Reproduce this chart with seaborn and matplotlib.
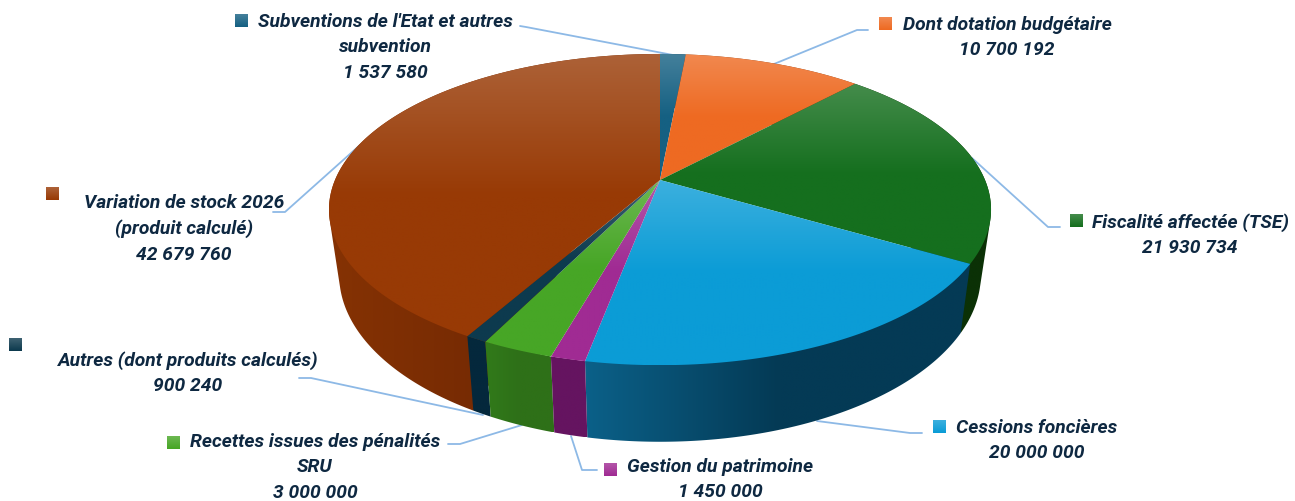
import numpy as np
import matplotlib
matplotlib.use("Agg")
import matplotlib.pyplot as plt
from matplotlib.patches import Polygon
import seaborn as sns

sns.set_theme(style="white")
plt.rcParams['font.family'] = ['Roboto', 'DejaVu Sans']

# clockwise from 12 o'clock
categories = ["Subventions de l'Etat et autres\nsubvention", "Dont dotation budgétaire",
              "Fiscalité affectée (TSE)", "Cessions foncières", "Gestion du patrimoine",
              "Recettes issues des pénalités\nSRU", "Autres (dont produits calculés)",
              "Variation de stock 2026\n(produit calculé)"]
values = [1537580, 10700192, 21930734, 20000000, 1450000, 3000000, 900240, 42679760]

top_colors = ['#156082', '#EE6A22', '#156F1E', '#0B9CD6', '#A02B93', '#47A626', '#0D3A4E', '#983A05']
wall_left = ['#0B3A50', '#8A3F14', '#0B3106', '#0B6088', '#651460', '#317A1A', '#04283C', '#853203']
wall_right = ['#0B3A50', '#8A3F14', '#0B3106', '#043A55', '#651460', '#2E7018', '#04283C', '#752A03']

# label centre x, first line y, square x, square y
label_x = [385, 1007, 1190, 1037, 720, 315, 188, 184]
label_y = [21, 24, 221, 427, 466, 441, 359, 202]
square_x = [235, 879, 1070, 933, 604, 167, 9, 46]
square_y = [14, 17, 214, 420, 463, 436, 338, 187]

leaders = [[(520, 26), (526, 27), (673, 55)],
           [(868, 30), (857, 30), (774, 64)],
           [(1060, 227), (1048, 227), (972, 158)],
           [(922, 433), (910, 433), (817, 421)],
           [(597, 470), (582, 470), (571, 436)],
           [(448, 444), (460, 444), (522, 425)],
           [(299, 378), (311, 378), (483, 415)],
           [(273, 212), (285, 212), (360, 145)]]


def project(theta, rx, cy, c):
    # disc seen in perspective: the near side is drawn bigger than the far side
    w = 1 + 0.19 * np.cos(theta)
    return 660 + rx * np.sin(theta) / w, cy - c * np.cos(theta) / w


def hull(points):
    # outline of the wall, so the side edge stays straight past the widest point
    pts = sorted(map(tuple, points))
    out = []
    for seq in (pts, pts[::-1]):
        part = []
        for p in seq:
            while len(part) > 1 and ((part[-1][0] - part[-2][0]) * (p[1] - part[-2][1])
                                     - (part[-1][1] - part[-2][1]) * (p[0] - part[-2][0])) <= 0:
                part.pop()
            part.append(p)
        out += part[:-1]
    return np.array(out)


def fill_gradient(ax, poly, colors, vertical=True, z=2):
    ax.add_patch(poly)
    poly.set_visible(False)
    xy = poly.get_xy()
    grad = np.array(sns.blend_palette(colors, 64))
    grad = grad[:, None, :3] if vertical else grad[None, :, :3]
    im = ax.imshow(grad, extent=(xy[:, 0].min(), xy[:, 0].max(), xy[:, 1].max(), xy[:, 1].min()),
                   aspect='auto', interpolation='bilinear', zorder=z)
    im.set_clip_path(poly)


def lighter(color):
    return sns.blend_palette([color, '#FFFFFF'], 6)[1]


fig = plt.figure(figsize=(12.95, 5.01), dpi=100)
ax = fig.add_axes([0, 0, 1, 1])
ax.set_autoscale_on(False)
ax.set_xlim(0, 1295)
ax.set_ylim(501, 0)
ax.axis('off')

edges = np.radians(np.cumsum([0] + values) / sum(values) * 360)
slices = list(zip(edges[:-1], edges[1:]))

# side walls, far ones first
order = sorted(range(len(values)), key=lambda i: np.cos((slices[i][0] + slices[i][1]) / 2), reverse=True)
for i in order:
    t = np.linspace(slices[i][0], slices[i][1], 200)
    tx, ty = project(t, 325, 180, 150)
    bx, by = project(t, 315, 243, 161)
    poly = Polygon(hull(np.r_[np.c_[tx, ty], np.c_[bx, by]]), closed=True)
    fill_gradient(ax, poly, [wall_left[i], wall_right[i], wall_right[i]], vertical=False)

# top faces
for i, (a, b) in enumerate(slices):
    t = np.linspace(a, b, 200)
    tx, ty = project(t, 325, 180, 150)
    poly = Polygon(np.r_[[(660, 180)], np.c_[tx, ty]], closed=True)
    fill_gradient(ax, poly, [lighter(top_colors[i]), top_colors[i], top_colors[i]], z=3)

# labels
for i, name in enumerate(categories):
    text = name + "\n" + f"{values[i]:,}".replace(",", " ")
    ax.text(label_x[i], label_y[i] - 8, text, ha='center', va='top', fontsize=13.9,
            fontweight='bold', fontstyle='italic', color='#0E2841', linespacing=1.52, zorder=5)
    ax.imshow(np.array(sns.blend_palette([lighter(top_colors[i]), top_colors[i]], 16))[:, None, :3],
              extent=(square_x[i], square_x[i] + 13, square_y[i] + 13, square_y[i]),
              aspect='auto', zorder=5)
    xs, ys = zip(*leaders[i])
    ax.plot(xs, ys, color='#8DB9E6', lw=1.3, zorder=1)

fig.savefig("out.png", dpi=100)
